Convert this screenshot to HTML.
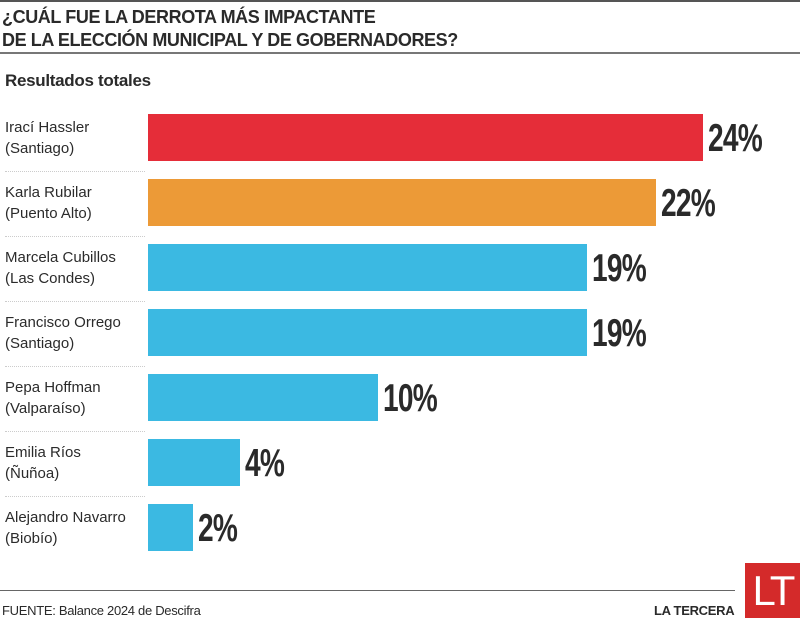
<!DOCTYPE html>
<html><head><meta charset="utf-8"><style>
body{margin:0;width:800px;height:618px;background:#fff;position:relative;overflow:hidden;font-family:"Liberation Sans",sans-serif;color:#2a2a2a}
.a{position:absolute}
.bar{position:absolute;left:148px;height:47px}
.n{position:absolute;left:5px;font-size:15px;line-height:21px;color:#2b2b2b}
.p{position:absolute;font-weight:bold;font-size:39px;line-height:39px;transform:scaleX(0.72);transform-origin:0 0;color:#2a2a2a;letter-spacing:-1px}
.sep{position:absolute;left:5px;width:140px;border-top:1px dotted #ccc}
</style></head><body>
<div class="a" style="left:0;top:0;width:800px;height:2px;background:#555"></div>
<div class="a" style="left:2px;top:6px;font-weight:bold;font-size:18px;line-height:23px;letter-spacing:-0.4px;color:#2a2a2a">¿CUÁL FUE LA DERROTA MÁS IMPACTANTE<br>DE LA ELECCIÓN MUNICIPAL Y DE GOBERNADORES?</div>
<div class="a" style="left:0;top:52px;width:800px;height:2px;background:#777"></div>
<div class="a" style="left:5px;top:71px;font-weight:bold;font-size:17px;letter-spacing:-0.3px">Resultados totales</div>

<div class="bar" style="top:114px;width:555px;background:#e52d39"></div>
<div class="bar" style="top:179px;width:508px;background:#ec9a37"></div>
<div class="bar" style="top:244px;width:439px;background:#3bb9e2"></div>
<div class="bar" style="top:309px;width:439px;background:#3bb9e2"></div>
<div class="bar" style="top:374px;width:230px;background:#3bb9e2"></div>
<div class="bar" style="top:439px;width:92px;background:#3bb9e2"></div>
<div class="bar" style="top:504px;width:45px;background:#3bb9e2"></div>

<div class="p" style="left:708px;top:119px">24%</div>
<div class="p" style="left:661px;top:184px">22%</div>
<div class="p" style="left:592px;top:249px">19%</div>
<div class="p" style="left:592px;top:314px">19%</div>
<div class="p" style="left:383px;top:379px">10%</div>
<div class="p" style="left:245px;top:444px">4%</div>
<div class="p" style="left:198px;top:509px">2%</div>

<div class="n" style="top:117px">Irací Hassler<br>(Santiago)</div>
<div class="sep" style="top:171px"></div>
<div class="n" style="top:182px">Karla Rubilar<br>(Puento Alto)</div>
<div class="sep" style="top:236px"></div>
<div class="n" style="top:247px">Marcela Cubillos<br>(Las Condes)</div>
<div class="sep" style="top:301px"></div>
<div class="n" style="top:312px">Francisco Orrego<br>(Santiago)</div>
<div class="sep" style="top:366px"></div>
<div class="n" style="top:377px">Pepa Hoffman<br>(Valparaíso)</div>
<div class="sep" style="top:431px"></div>
<div class="n" style="top:442px">Emilia Ríos<br>(Ñuñoa)</div>
<div class="sep" style="top:496px"></div>
<div class="n" style="top:507px">Alejandro Navarro<br>(Biobío)</div>

<div class="a" style="left:0;top:590px;width:735px;height:1px;background:#666"></div>
<div class="a" style="left:2px;top:603px;font-size:13px;letter-spacing:-0.3px">FUENTE: Balance 2024 de Descifra</div>
<div class="a" style="left:654px;top:603px;font-size:13px;font-weight:bold;letter-spacing:-0.3px">LA TERCERA</div>
<div class="a" style="left:745px;top:563px;width:55px;height:55px;background:#d42a2a;color:#fff;font-size:42px;line-height:55px;text-align:center;letter-spacing:-3px">LT</div>
</body></html>
